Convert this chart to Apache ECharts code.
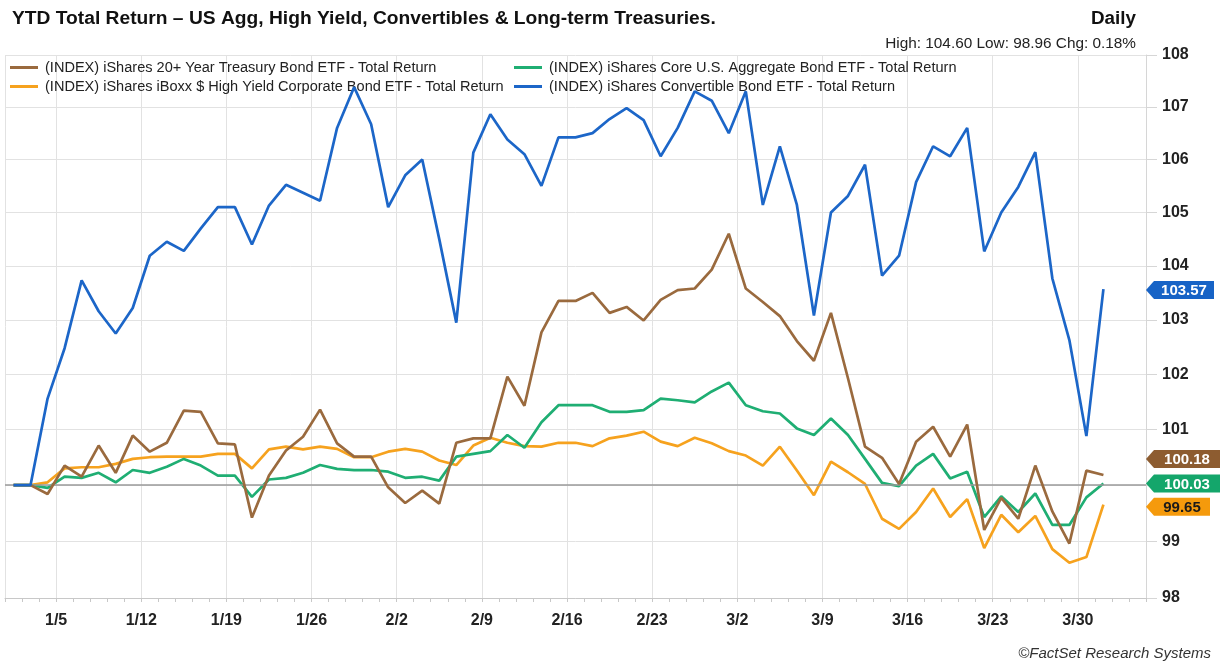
<!DOCTYPE html>
<html>
<head>
<meta charset="utf-8">
<script src="https://cdn.jsdelivr.net/npm/echarts@6/dist/echarts.min.js"></script>
<style>
html,body{margin:0;padding:0;background:#fff;}
#c{width:1225px;height:662px;}
</style>
</head>
<body>
<div id="c"></div>
<script>
// ---------- DATA ----------
const categories = ['12/31','1/1','1/2',
 '1/5','1/6','1/7','1/8','1/9',
 '1/12','1/13','1/14','1/15','1/16',
 '1/19','1/20','1/21','1/22','1/23',
 '1/26','1/27','1/28','1/29','1/30',
 '2/2','2/3','2/4','2/5','2/6',
 '2/9','2/10','2/11','2/12','2/13',
 '2/16','2/17','2/18','2/19','2/20',
 '2/23','2/24','2/25','2/26','2/27',
 '3/2','3/3','3/4','3/5','3/6',
 '3/9','3/10','3/11','3/12','3/13',
 '3/16','3/17','3/18','3/19','3/20',
 '3/23','3/24','3/25','3/26','3/27',
 '3/30','3/31','4/1','4/2'];
const weekLabels = ['1/5','1/12','1/19','1/26','2/2','2/9','2/16','2/23','3/2','3/9','3/16','3/23','3/30'];
const yTicks = [98,99,100,101,102,103,104,105,106,107,108];

const treasury = [100,100,99.84,100.35,100.15,100.71,100.22,100.89,100.6,100.76,
 101.34,101.32,100.75,100.73,99.42,100.17,100.62,100.87,101.36,100.75,
 100.51,100.51,99.96,99.68,99.9,99.67,100.76,100.84,100.84,101.96,
 101.43,102.77,103.35,103.35,103.5,103.13,103.24,102.99,103.37,103.55,
 103.58,103.93,104.6,103.58,103.33,103.07,102.61,102.25,103.13,101.93,
 100.69,100.49,100.02,100.78,101.05,100.51,101.09,99.2,99.77,99.4,
 100.35,99.53,98.96,100.26,100.18];
const aggregate = [100,100,99.95,100.15,100.13,100.22,100.05,100.27,100.22,100.33,
 100.47,100.35,100.17,100.17,99.79,100.1,100.13,100.22,100.36,100.29,
 100.27,100.27,100.24,100.13,100.15,100.08,100.51,100.56,100.61,100.9,
 100.67,101.13,101.44,101.44,101.44,101.32,101.32,101.35,101.56,101.53,
 101.49,101.69,101.85,101.44,101.33,101.29,101.02,100.9,101.2,100.9,
 100.47,100.04,99.98,100.35,100.56,100.12,100.24,99.43,99.8,99.52,
 99.85,99.29,99.29,99.78,100.03];
const highYield = [100,100,100.05,100.3,100.32,100.32,100.38,100.47,100.5,100.51,
 100.51,100.51,100.56,100.56,100.3,100.64,100.69,100.64,100.69,100.65,
 100.5,100.5,100.6,100.65,100.6,100.44,100.36,100.71,100.85,100.76,
 100.7,100.69,100.76,100.76,100.7,100.84,100.89,100.96,100.78,100.7,
 100.85,100.75,100.61,100.53,100.35,100.69,100.26,99.82,100.42,100.23,
 100.02,99.4,99.22,99.52,99.94,99.43,99.75,98.88,99.47,99.16,
 99.45,98.86,98.62,98.72,99.65];
const convertible = [100,100,101.56,102.48,103.73,103.16,102.75,103.22,104.19,104.45,
 104.28,104.7,105.1,105.1,104.4,105.13,105.52,105.37,105.22,106.6,
 107.38,106.67,105.1,105.7,106.0,104.5,102.95,106.13,106.86,106.38,
 106.1,105.5,106.42,106.42,106.5,106.77,106.98,106.75,106.06,106.6,
 107.3,107.12,106.5,107.3,105.14,106.25,105.14,103.08,105.0,105.31,
 105.9,103.82,104.19,105.57,106.25,106.06,106.6,104.27,105.0,105.48,
 106.14,103.77,102.63,100.88,103.57];

const seriesNames = {
  treasury: '(INDEX) iShares 20+ Year Treasury Bond ETF - Total Return',
  aggregate: '(INDEX) iShares Core U.S. Aggregate Bond ETF - Total Return',
  highYield: '(INDEX) iShares iBoxx $ High Yield Corporate Bond ETF - Total Return',
  convertible: '(INDEX) iShares Convertible Bond ETF - Total Return'
};
const titleText = 'YTD Total Return \u2013 US Agg, High Yield, Convertibles & Long-term Treasuries.';

// ---------- STYLE ----------
const COLORS = { treasury:'#9a6a3e', aggregate:'#1fae73', highYield:'#f6a21e', convertible:'#1c66c8' };
const TAGS = { treasury:'#8d5c30', aggregate:'#14a66b', highYield:'#f59a0c', convertible:'#1763c6' };
const FONT = 'Liberation Sans, Arial, sans-serif';

function fitSize(text, weight, style, target) {
  const c = document.createElement('canvas').getContext('2d');
  c.font = style + ' ' + weight + ' 100px "Liberation Sans", Arial, sans-serif';
  return 100 * target / c.measureText(text).width;
}

const maxT = Math.max.apply(null, treasury);
const minT = Math.min.apply(null, treasury);
const chgT = treasury[treasury.length - 1] - 100;
const statText = 'High: ' + maxT.toFixed(2) + ' Low: ' + minT.toFixed(2) + ' Chg: ' + chgT.toFixed(2) + '%';

const titleSize = fitSize(titleText, 'bold', 'normal', 704);
const dailySize = fitSize('Daily', 'bold', 'normal', 45);
const statSize = fitSize(statText, 'normal', 'normal', 251);
const legendSize = fitSize(seriesNames.treasury, 'normal', 'normal', 392);
const footSize = fitSize('\u00A9FactSet Research Systems', 'normal', 'italic', 193);

function endTag(values, color, textColor, width, dy) {
  const i = values.length - 1;
  return {
    silent: true,
    animation: false,
    symbol: 'path://M0,9L8,0L' + width + ',0L' + width + ',18L8,18Z',
    symbolSize: [width, 18],
    symbolOffset: [8.5 + width / 2, dy],
    itemStyle: { color: color },
    label: {
      show: true, position: 'inside', offset: [4, 1],
      color: textColor, fontWeight: 'bold', fontSize: 15, fontFamily: FONT,
      formatter: function (p) { return p.value.toFixed(2); }
    },
    data: [{ coord: [categories.length - 1, values[i]], value: values[i] }]
  };
}

function lineSeries(key, values, z, extra) {
  const s = {
    name: seriesNames[key],
    type: 'line',
    data: values,
    symbol: 'none',
    z: z,
    lineStyle: { color: COLORS[key], width: 2.7 },
    itemStyle: { color: COLORS[key] },
    animation: false
  };
  return Object.assign(s, extra || {});
}

const chart = echarts.init(document.getElementById('c'), null, { renderer: 'canvas' });

const legendCommon = {
  orient: 'vertical', top: 60, padding: 0, itemGap: 4, icon: 'rect', itemWidth: 28, itemHeight: 3,
  selectedMode: false,
  textStyle: { fontFamily: FONT, fontSize: legendSize, color: '#222', lineHeight: 15, padding: [0,0,0,2] }
};

chart.setOption({
  backgroundColor: '#ffffff',
  animation: false,
  title: [
    { text: titleText, left: 7, top: 5, textStyle: { fontFamily: FONT, fontWeight: 'bold', fontSize: titleSize, color: '#111', lineHeight: 18 } },
    { text: 'Daily', right: 84, top: 5, textStyle: { fontFamily: FONT, fontWeight: 'bold', fontSize: dailySize, color: '#111', lineHeight: 18 } },
    { text: statText, right: 84, top: 31, textStyle: { fontFamily: FONT, fontWeight: 'normal', fontSize: statSize, color: '#222', lineHeight: 16 } },
    { text: '\u00A9FactSet Research Systems', right: 9, top: 641, textStyle: { fontFamily: FONT, fontStyle: 'italic', fontWeight: 'normal', fontSize: footSize, color: '#333', lineHeight: 16 } }
  ],
  legend: [
    Object.assign({ left: 10, data: [seriesNames.treasury, seriesNames.highYield] }, legendCommon),
    Object.assign({ left: 514, data: [seriesNames.aggregate, seriesNames.convertible] }, legendCommon)
  ],
  grid: { left: 5, right: 79, top: 55, bottom: 64, containLabel: false },
  xAxis: {
    type: 'category',
    data: categories,
    boundaryGap: true,
    axisLine: { show: true, lineStyle: { color: '#c8c8c8', width: 1 } },
    axisTick: { show: true, interval: 0, length: 4, lineStyle: { color: '#c8c8c8' } },
    axisLabel: {
      interval: function (i, v) { return weekLabels.indexOf(v) >= 0; },
      fontFamily: FONT, fontWeight: 'bold', fontSize: 16, color: '#222',
      margin: 15, padding: [0, 17, 0, 0]
    },
    splitLine: {
      show: true,
      interval: function (i, v) { return i === 0 || weekLabels.indexOf(v) >= 0; },
      lineStyle: { color: '#e2e2e2', width: 1 }
    }
  },
  yAxis: {
    type: 'log',
    logBase: 10,
    position: 'right',
    min: yTicks[0],
    max: yTicks[yTicks.length - 1],
    axisLine: { show: true, lineStyle: { color: '#d6d6d6' } },
    axisTick: { show: true, length: 11, inside: false, customValues: yTicks, lineStyle: { color: '#d6d6d6' } },
    axisLabel: {
      customValues: yTicks, margin: 16,
      fontFamily: FONT, fontWeight: 'bold', fontSize: 16, color: '#222',
      formatter: function (v) { return String(Math.round(v)); }
    },
    splitLine: { show: true, lineStyle: { color: '#e2e2e2', width: 1 } }
  },
  series: [
    lineSeries('highYield', highYield, 3, { markPoint: endTag(highYield, TAGS.highYield, '#1a1a1a', 64, 2) }),
    lineSeries('aggregate', aggregate, 4, { markPoint: endTag(aggregate, TAGS.aggregate, '#ffffff', 74, 0) }),
    lineSeries('treasury', treasury, 5, {
      markPoint: endTag(treasury, TAGS.treasury, '#ffffff', 74, -16),
      markLine: {
        silent: true, symbol: 'none', animation: false,
        label: { show: false },
        lineStyle: { color: '#9a9a9a', width: 1.5, type: 'solid' },
        data: [{ yAxis: 100 }]
      }
    }),
    lineSeries('convertible', convertible, 6, { markPoint: endTag(convertible, TAGS.convertible, '#ffffff', 68, 1) })
  ]
});
</script>
</body>
</html>
